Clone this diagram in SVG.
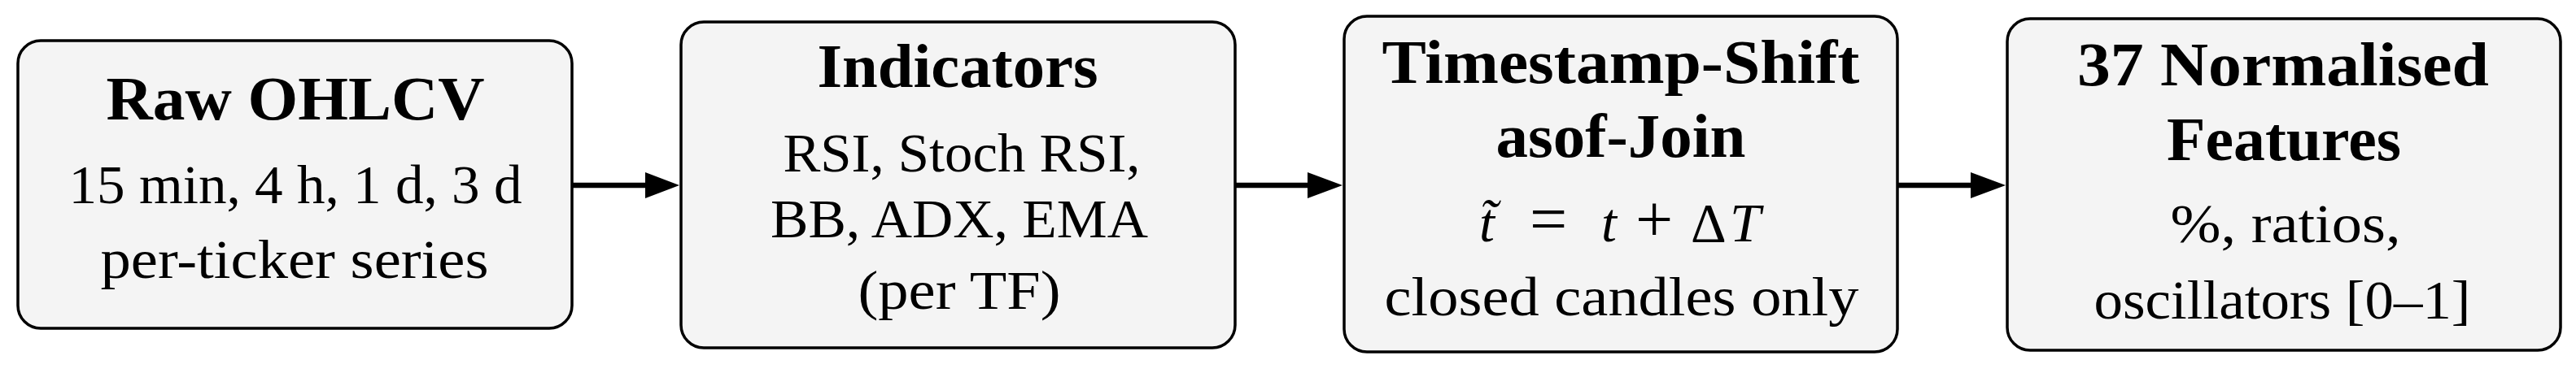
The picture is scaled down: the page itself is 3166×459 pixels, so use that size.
<svg xmlns="http://www.w3.org/2000/svg" width="3166" height="459" viewBox="0 0 3166 459">
<style>
.box{fill:#f4f4f4;stroke:#000;stroke-width:3.5}
.h{font-family:"Liberation Serif",serif;font-weight:bold;font-size:76px;text-anchor:middle;fill:#000}
.b{font-family:"Liberation Serif",serif;font-size:68px;text-anchor:middle;fill:#000}
.m{font-family:"Liberation Serif",serif;font-size:68px;fill:#000}
.i{font-style:italic}
.op{font-size:82px}
.ln{stroke:#000;stroke-width:6.3;fill:none}
.hd{fill:#000}
</style>
<rect width="3166" height="459" fill="#fff"/>
<g id="node-raw">
<rect class="box" x="22" y="50" width="681" height="354" rx="28"/>
<text class="h" x="363" y="147" textLength="465" lengthAdjust="spacingAndGlyphs">Raw OHLCV</text>
<text class="b" x="363" y="250" textLength="557" lengthAdjust="spacingAndGlyphs">15 min, 4 h, 1 d, 3 d</text>
<text class="b" x="362" y="342" textLength="477" lengthAdjust="spacingAndGlyphs">per-ticker series</text>
</g>
<g id="node-indicators">
<rect class="box" x="837" y="27" width="681" height="401" rx="28"/>
<text class="h" x="1177" y="107" textLength="345" lengthAdjust="spacingAndGlyphs">Indicators</text>
<text class="b" x="1182" y="211" textLength="439" lengthAdjust="spacingAndGlyphs">RSI, Stoch RSI,</text>
<text class="b" x="1179" y="292" textLength="464" lengthAdjust="spacingAndGlyphs">BB, ADX, EMA</text>
<text class="b" x="1179" y="380" textLength="249" lengthAdjust="spacingAndGlyphs">(per  TF)</text>
</g>
<g id="node-shift">
<rect class="box" x="1652" y="20" width="680" height="413" rx="28"/>
<text class="h" x="1992" y="102" textLength="587" lengthAdjust="spacingAndGlyphs">Timestamp-Shift</text>
<text class="h" x="1992" y="193" textLength="307" lengthAdjust="spacingAndGlyphs">asof-Join</text>
<text class="m" y="297"><tspan class="i" x="1818">t̃</tspan><tspan class="op" x="1880">=</tspan><tspan class="i" x="1968">t</tspan><tspan class="op" x="2010">+</tspan><tspan x="2078">Δ</tspan><tspan class="i" x="2126">T</tspan></text>
<text class="b" x="1993" y="388" textLength="583" lengthAdjust="spacingAndGlyphs">closed candles only</text>
</g>
<g id="node-features">
<rect class="box" x="2467" y="23" width="680" height="408" rx="28"/>
<text class="h" x="2806" y="105" textLength="506" lengthAdjust="spacingAndGlyphs">37 Normalised</text>
<text class="h" x="2807" y="197" textLength="288" lengthAdjust="spacingAndGlyphs">Features</text>
<text class="b" x="2809" y="298" textLength="283" lengthAdjust="spacingAndGlyphs">%, ratios,</text>
<text class="b" x="2805" y="392" textLength="463" lengthAdjust="spacingAndGlyphs">oscillators [0–1]</text>
</g>
<g id="connectors">
<line class="ln" x1="703" y1="228" x2="796" y2="228"/>
<polygon class="hd" points="793,212 835,228 793,244"/>
<line class="ln" x1="1518" y1="228" x2="1610" y2="228"/>
<polygon class="hd" points="1607,212 1650,228 1607,244"/>
<line class="ln" x1="2332" y1="228" x2="2425" y2="228"/>
<polygon class="hd" points="2422,212 2465,228 2422,244"/>
</g>
</svg>
